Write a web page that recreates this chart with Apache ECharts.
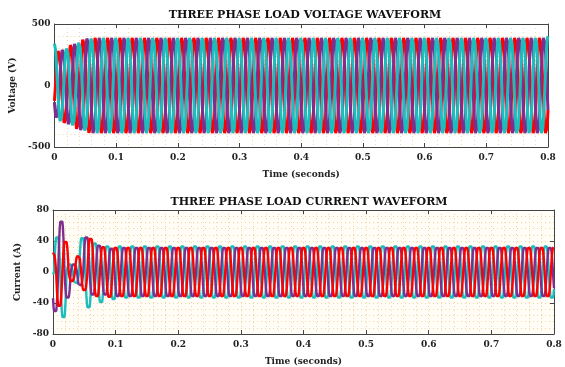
<!DOCTYPE html>
<html>
<head>
<meta charset="utf-8">
<script src="https://cdn.jsdelivr.net/npm/echarts@6/dist/echarts.min.js"></script>
<style>
  html, body { margin: 0; padding: 0; background: #fff; }
  #chart { width: 565px; height: 367px; }
</style>
</head>
<body>
<div id="chart"></div>
<script>
// tick labels
const timeTicks = [0, 0.1, 0.2, 0.3, 0.4, 0.5, 0.6, 0.7, 0.8];
const voltTicks = [-500, 0, 500];
const currTicks = [-80, -40, 0, 40, 80];

// one half cycle (10 ms) of each waveform, 12 samples
const voltHalfShape = [0, 0.259, 0.5, 0.707, 0.866, 0.966, 1, 0.966, 0.866, 0.707, 0.5, 0.259];
const currHalfShape = [0, 0.35, 0.65, 0.86, 0.97, 1, 1, 1, 0.97, 0.86, 0.65, 0.35];

// phase offsets in samples (8 samples = 120 deg)
const voltOffsets = { red: 22, purple: 14, cyan: 6 };
const currOffsets = { red: 6, purple: 14, cyan: 22 };

// peak of each half cycle (start-up), then steady value
const voltRedPeaks = [0, 250, 290, 315, 340, 365, 385, 398];
const voltPurplePeaks = [0, 270, 300, 325, 350, 375, 395, 400];
const voltCyanPeaks = [340, 300, 310, 335, 360, 380, 395, 400];
const voltSteady = 400;

const currRedPeaks = [25, 45, 40, 12, 21, 24, 44, 32, 33, 33];
const currPurplePeaks = [0, 52, 67, 34, 10, 18, 46, 30, 35, 30, 31];
const currCyanPeaks = [0, 5, 46, 60, 10, 15, 45, 47, 38, 40, 34, 36];
const currRedSteady = 32;
const currPurpleSteady = 32;
const currCyanSteady = 34;

const RED = '#FF0000', PURPLE = '#7E2F8E', CYAN = '#1DBDBD';

// 0.8 s at 1200 samples per second
function buildWave(peaks, steady, shape, offset) {
  const pts = [];
  for (let n = 0; n <= 960; n++) {
    const m = n + offset;
    const h = Math.floor(m / 12);
    const amp = h < peaks.length ? peaks[h] : steady;
    const sign = h % 2 === 0 ? 1 : -1;
    pts.push([n / 1200, sign * amp * shape[m % 12]]);
  }
  return pts;
}

const font = 'DejaVu Serif';
const labelStyle = { color: '#222', fontFamily: font, fontWeight: 'bold', fontSize: 9 };
const gridDots = { color: '#F3D3A8', type: [1, 3], width: 1 };
const frame = { show: true, onZero: false, lineStyle: { color: '#444', width: 1 } };
const ticks = { inside: true, length: 4, lineStyle: { color: '#444' } };

function xAxes(gridIndex) {
  return [{
    type: 'value', gridIndex, min: 0, max: 0.8, interval: 0.1,
    name: 'Time (seconds)', nameLocation: 'middle', nameGap: 23,
    nameTextStyle: { ...labelStyle },
    axisLine: frame, axisTick: ticks,
    axisLabel: { ...labelStyle, margin: 6, formatter: v => timeTicks.includes(+v.toFixed(1)) ? String(+v.toFixed(1)) : '' },
    splitLine: { show: true, lineStyle: gridDots },
    minorTick: { show: false, splitNumber: 5 },
    minorSplitLine: { show: true, lineStyle: gridDots }
  }, {
    type: 'value', gridIndex, min: 0, max: 0.8, interval: 0.1, position: 'top',
    axisLine: frame, axisTick: ticks, axisLabel: { show: false }, splitLine: { show: false }
  }];
}

function yAxes(gridIndex, tickVals, name, gap) {
  const step = tickVals[1] - tickVals[0];
  return [{
    type: 'value', gridIndex, min: tickVals[0], max: tickVals[tickVals.length - 1], interval: step,
    name, nameLocation: 'middle', nameGap: gap, nameTextStyle: { ...labelStyle },
    axisLine: frame, axisTick: ticks,
    axisLabel: { ...labelStyle, margin: 4 },
    splitLine: { show: true, lineStyle: gridDots },
    minorTick: { show: false, splitNumber: 5 },
    minorSplitLine: { show: true, lineStyle: gridDots }
  }, {
    type: 'value', gridIndex, min: tickVals[0], max: tickVals[tickVals.length - 1], interval: step, position: 'right',
    axisLine: frame, axisTick: ticks, axisLabel: { show: false }, splitLine: { show: false }
  }];
}

function wave(name, color, data, xi, yi, width) {
  return {
    name, type: 'line', data, xAxisIndex: xi, yAxisIndex: yi,
    showSymbol: false, symbol: 'none', silent: true,
    lineStyle: { color, width }, itemStyle: { color }
  };
}

const chart = echarts.init(document.getElementById('chart'));
chart.setOption({
  animation: false,
  backgroundColor: '#fff',
  title: [
    { text: 'THREE PHASE LOAD VOLTAGE WAVEFORM', left: 300, top: 5, textAlign: 'center',
      textStyle: { fontFamily: font, fontWeight: 'bold', fontSize: 11, color: '#111' } },
    { text: 'THREE PHASE LOAD CURRENT WAVEFORM', left: 304, top: 192, textAlign: 'center',
      textStyle: { fontFamily: font, fontWeight: 'bold', fontSize: 11, color: '#111' } }
  ],
  grid: [
    { left: 52, right: 17, top: 24, height: 123, show: true, borderWidth: 0, backgroundColor: '#fff' },
    { left: 53, right: 11, top: 210, height: 126, show: true, borderWidth: 0, backgroundColor: '#FFFDF6' }
  ],
  xAxis: [...xAxes(0), ...xAxes(1)],
  yAxis: [...yAxes(0, voltTicks, 'Voltage (V)', 22), ...yAxes(1, currTicks, 'Current (A)', 19)],
  series: [
    wave('Va', RED, buildWave(voltRedPeaks, voltSteady, voltHalfShape, voltOffsets.red), 0, 0, 3),
    wave('Vb', PURPLE, buildWave(voltPurplePeaks, voltSteady, voltHalfShape, voltOffsets.purple), 0, 0, 3),
    wave('Vc', CYAN, buildWave(voltCyanPeaks, voltSteady, voltHalfShape, voltOffsets.cyan), 0, 0, 3),
    wave('Ic', CYAN, buildWave(currCyanPeaks, currCyanSteady, currHalfShape, currOffsets.cyan), 2, 2, 2.4),
    wave('Ib', PURPLE, buildWave(currPurplePeaks, currPurpleSteady, currHalfShape, currOffsets.purple), 2, 2, 2.4),
    wave('Ia', RED, buildWave(currRedPeaks, currRedSteady, currHalfShape, currOffsets.red), 2, 2, 2.4)
  ]
});
</script>
</body>
</html>
